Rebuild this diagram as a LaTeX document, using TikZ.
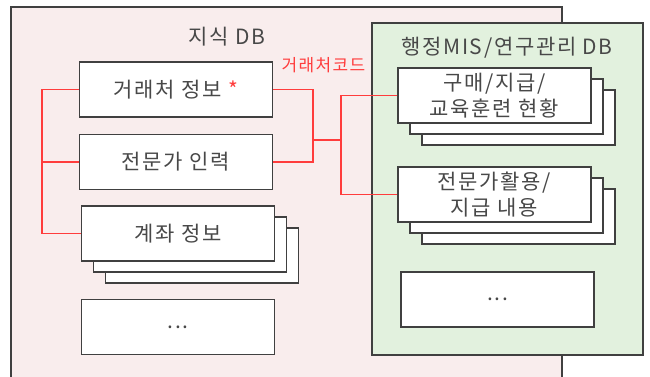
\documentclass[tikz,border=0pt]{standalone}
\usepackage{fontspec}
\setmainfont[LetterSpace=8]{Noto Sans CJK KR}
\usetikzlibrary{shadows}

\definecolor{dbpink}{RGB}{249,237,237}
\definecolor{dbgreen}{RGB}{226,241,222}
\definecolor{codered}{RGB}{255,60,60}
\definecolor{inkgray}{RGB}{64,64,64}
\definecolor{textgray}{RGB}{72,72,72}

\begin{document}
\begin{tikzpicture}[x=1pt, y=-1pt, line join=miter,
    dbarea/.style={draw=inkgray, line width=1.2pt},
    dbtitle/.style={text=textgray, font=\fontsize{21}{21}\selectfont},
    table/.style={draw=inkgray, line width=1.3pt, fill=white, minimum width=193pt, minimum height=55pt, inner sep=0pt, text=textgray, align=center, font=\fontsize{21}{26}\selectfont},
    tablestack/.style={table, copy shadow={shadow xshift=24pt, shadow yshift=-22pt}, copy shadow={shadow xshift=12pt, shadow yshift=-11pt}},
    link/.style={draw=codered, line width=1.2pt}]

    % Picture size
    \useasboundingbox (0,0) rectangle (650,376);
    \clip (0,0) rectangle (650,376);

    % Knowledge DB and MIS DB areas
    \draw[dbarea, fill=dbpink] (11,7) rectangle (562,400);
    \draw[dbarea, fill=dbgreen] (372,23) rectangle (643,355);
    \node[dbtitle] (knowtitle) at (227,37) {지식 DB};
    \node[dbtitle] (mistitle) at (507,48) {행정MIS/연구관리 DB};

    % Tables of the knowledge DB
    \node[table] (client) at (176,89.5) {거래처 정보 \textcolor{codered}{*}};
    \node[table] (expert) at (176,162) {전문가 인력};
    \node[tablestack] (account) at (178,233.5) {계좌 정보};
    \node[table] (moreleft) at (178,327) {...};

    % Tables of the MIS DB
    \node[tablestack] (purchase) at (494.5,95.5) {구매/지급/\\교육훈련 현황};
    \node[tablestack] (usage) at (494.5,194.5) {전문가활용/\\지급 내용};
    \node[table] (moreright) at (497.5,299.5) {...};

    % Key label
    \node[text=codered, font=\fontsize{17}{17}\selectfont] (codelabel) at (323.5,65) {거래처코드};

    % Links
    \coordinate (leftbus) at (42,0);
    \coordinate (joinA) at (313,140);
    \coordinate (joinB) at (341,140);
    \draw[link] (client.west) -- (client.west -| leftbus) |- (account.west);
    \draw[link] (expert.west) -- (expert.west -| leftbus);
    \draw[link] (client.east) -| (joinA) |- (expert.east);
    \draw[link] (joinA) -- (joinB);
    \draw[link] (purchase.west) -| (joinB) |- (usage.west);
\end{tikzpicture}
\end{document}
